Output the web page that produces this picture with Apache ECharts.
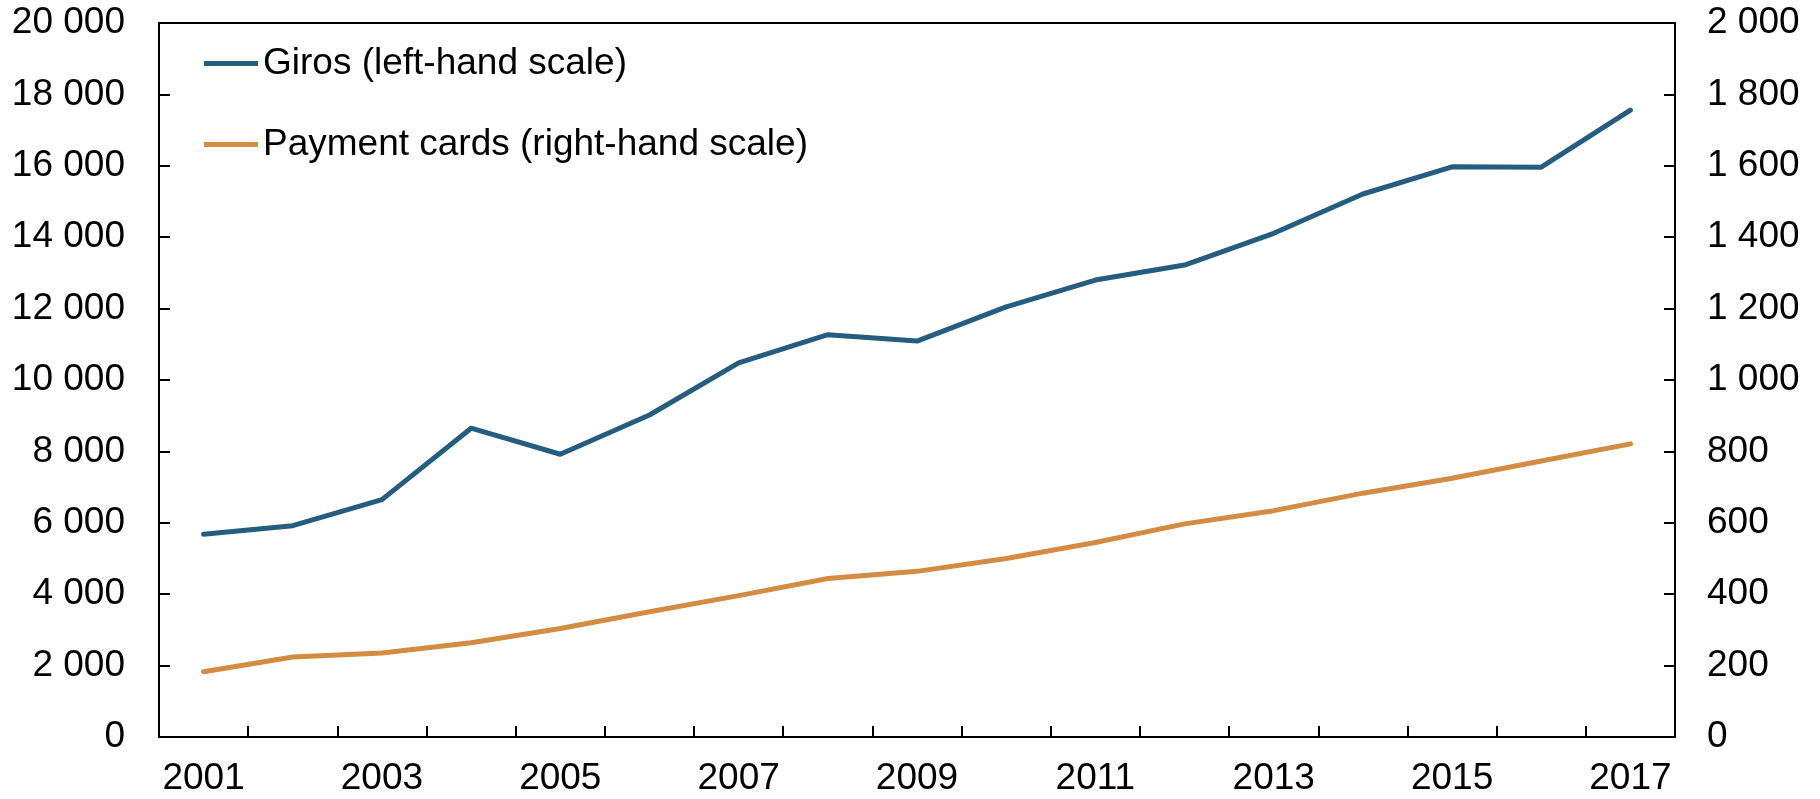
<!DOCTYPE html>
<html>
<head>
<meta charset="utf-8">
<script src="https://cdn.jsdelivr.net/npm/echarts@6/dist/echarts.min.js"></script>
<style>
html,body{margin:0;padding:0;background:#fff;}
#chart{width:1820px;height:799px;}
</style>
</head>
<body>
<div id="chart"></div>
<script>
var years = ['2001','2002','2003','2004','2005','2006','2007','2008','2009','2010','2011','2012','2013','2014','2015','2016','2017'];
var giros = [5680, 5920, 6650, 8650, 7920, 9020, 10480, 11270, 11090, 12050, 12800, 13220, 14110, 15210, 15970, 15960, 17560];
var paymentCards = [183, 224, 235, 264, 304, 351, 396, 444, 464, 500, 545, 597, 634, 683, 725, 773, 821];
var seriesNames = ['Giros (left-hand scale)', 'Payment cards (right-hand scale)'];

function fmt(v){
  var s = String(Math.round(v));
  return s.replace(/\B(?=(\d{3})+(?!\d))/g, ' ');
}

var FONT = 'Liberation Sans, Arial, sans-serif';
var chart = echarts.init(document.getElementById('chart'), null, {renderer:'canvas'});
chart.setOption({
  animation:false,
  backgroundColor:'#ffffff',
  textStyle:{fontFamily:FONT},
  grid:{left:159, right:145, top:23, bottom:62, show:true, borderColor:'#000', borderWidth:2, backgroundColor:'transparent'},
  legend:{
    orient:'vertical', left:204, top:45, padding:0, itemGap:44,
    icon:'rect', itemWidth:54, itemHeight:5,
    textStyle:{fontFamily:FONT, fontSize:37, color:'#000'},
    data:seriesNames
  },
  xAxis:{
    type:'category', data:years, boundaryGap:true,
    axisLine:{lineStyle:{color:'#000', width:2}},
    axisTick:{show:true, inside:true, length:11, interval:0, alignWithLabel:false, lineStyle:{color:'#000', width:2}},
    axisLabel:{interval:1, fontSize:37, color:'#000', fontFamily:FONT, margin:23},
    splitLine:{show:false}
  },
  yAxis:[{
    type:'value', min:0, max:20000, interval:2000, position:'left',
    axisLine:{show:true, lineStyle:{color:'#000', width:2}},
    axisTick:{show:true, inside:true, length:11, lineStyle:{color:'#000', width:2}},
    axisLabel:{fontSize:37, color:'#000', fontFamily:FONT, margin:34, formatter:fmt},
    splitLine:{show:false}
  },{
    type:'value', min:0, max:2000, interval:200, position:'right',
    axisLine:{show:true, lineStyle:{color:'#000', width:2}},
    axisTick:{show:true, inside:true, length:11, lineStyle:{color:'#000', width:2}},
    axisLabel:{fontSize:37, color:'#000', fontFamily:FONT, margin:32, formatter:fmt},
    splitLine:{show:false}
  }],
  series:[{
    name:seriesNames[0], type:'line', yAxisIndex:0, data:giros,
    symbol:'none', color:'#245d7f',
    lineStyle:{color:'#245d7f', width:5, cap:'round', join:'round'}
  },{
    name:seriesNames[1], type:'line', yAxisIndex:1, data:paymentCards,
    symbol:'none', color:'#d38c42',
    lineStyle:{color:'#d38c42', width:5, cap:'round', join:'round'}
  }]
});
</script>
</body>
</html>
